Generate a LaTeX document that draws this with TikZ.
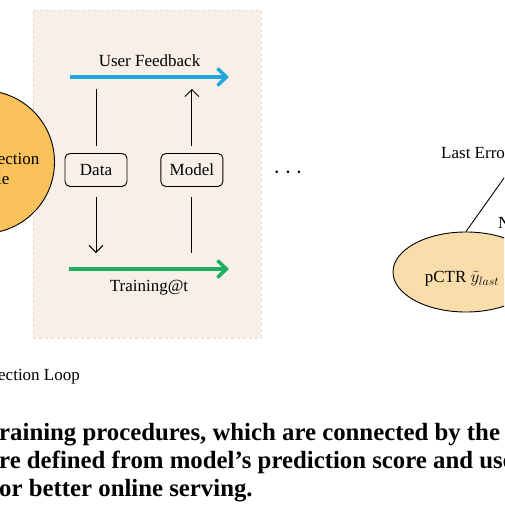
\documentclass[tikz,border=0pt]{standalone}
\usepackage{fontspec}
\setmainfont{Liberation Serif}
\usetikzlibrary{arrows.meta,positioning,shapes.geometric}

\definecolor{panelbg}{HTML}{F8F0E8}
\definecolor{panelline}{HTML}{E4DCD2}
\definecolor{ecmorange}{HTML}{F9C25A}
\definecolor{pctrorange}{HTML}{F9DDAA}
\definecolor{fbblue}{HTML}{22A7DC}
\definecolor{trgreen}{HTML}{1DAE5E}

\newcommand{\lblfont}{\fontsize{17}{20}\selectfont}
\newcommand{\capfont}{\fontsize{24.8}{28}\selectfont\bfseries}

\begin{document}
\begin{tikzpicture}[
    x=1pt, y=-1pt,
    module/.style={rectangle, rounded corners=5pt, draw, line width=0.9pt, fill=panelbg, minimum width=62pt, minimum height=33pt, font=\lblfont},
    plain/.style={font=\lblfont, inner sep=0pt},
    flow/.style={line width=3.5pt, -{Straight Barb[length=9pt,width=17pt]}},
    link/.style={line width=0.9pt},
    arrow/.style={link, -{Straight Barb[length=7pt,width=14pt]}}
]
\useasboundingbox (0,0) rectangle (504,505);
\clip (0,0) rectangle (504,505);

% training panel
\node[draw=panelline, dashed, fill=panelbg, minimum width=228pt, minimum height=328pt] (panel) at (147,174) {};

% error correction module
\node[circle, draw, line width=0.9pt, fill=ecmorange, minimum size=143pt,
      label={[font=\lblfont, align=center, yshift=-7pt]center:Error Correction\\Module}] (ecm) at (-17,162) {};

% feedback and training
\coordinate (fbs) at (70,77);
\coordinate (fbe) at (229,77);
\coordinate (trs) at (69,269);
\coordinate (tre) at (229,269);
\draw[flow, fbblue] (fbs) -- (fbe) node[midway, above=5pt, font=\lblfont, text=black] (fb) {User Feedback};
\draw[flow, trgreen] (trs) -- (tre) node[midway, below=6pt, font=\lblfont, text=black] (tr) {Training@t};

\node[module] (data) at (96,170) {Data};
\node[module, right=33pt of data] (model) {Model};

\draw[link, shorten <=12pt, shorten >=7pt] (data |- fbs) -- (data.north);
\draw[arrow, shorten <=10pt, shorten >=16pt] (data.south) -- (data |- trs);
\draw[link, shorten <=16pt, shorten >=10pt] (model |- trs) -- (model.south);
\draw[arrow, shorten <=7pt, shorten >=12pt] (model.north) -- (model |- fbs);

\node[font=\fontsize{23}{26}\selectfont] (dots) at (288,173) {$\cdots$};

% last error
\node[ellipse, draw, line width=0.9pt, fill=pctrorange, minimum width=146pt, minimum height=80pt,
      label={[font=\lblfont, xshift=-4pt, yshift=-7pt]center:pCTR $\tilde{y}_{last}$}] (pctr) at (466,272) {};
\node[plain, anchor=base west] (lasterr) at (441,158) {Last Error};
\coordinate (lerr) at (531,140);
\draw[link] (pctr.north) -- (lerr);
\node[plain, anchor=base west] (nlbl) at (498,228) {N};

% captions
\node[plain, anchor=base west] (subcap) at (-2,380) {ection Loop};
\node[inner sep=0pt, font=\capfont, anchor=base west] (cap1) at (-1,440) {raining procedures, which are connected by the};
\node[inner sep=0pt, font=\capfont, anchor=base west] (cap2) at (-1,468) {re defined from model’s prediction score and use};
\node[inner sep=0pt, font=\capfont, anchor=base west] (cap3) at (-1,496) {or better online serving.};

\end{tikzpicture}
\end{document}
